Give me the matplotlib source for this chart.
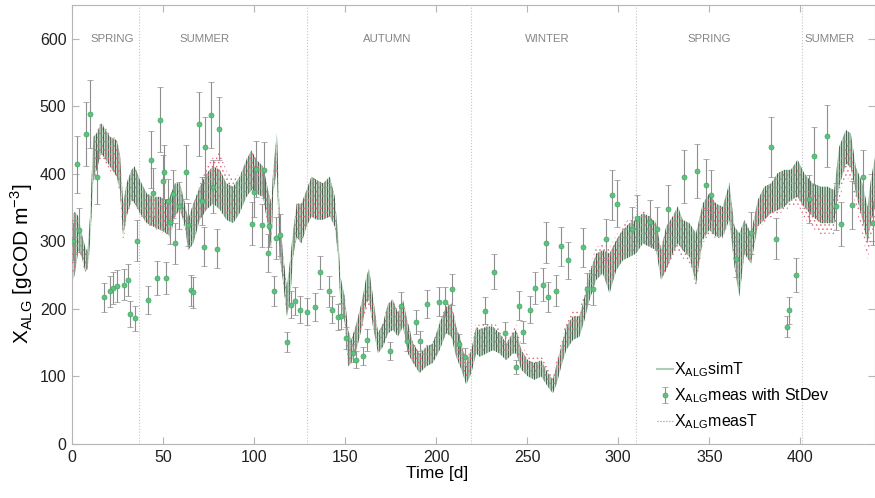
import numpy as np
import matplotlib
matplotlib.use("Agg")
import matplotlib.pyplot as plt
from matplotlib.lines import Line2D

plt.rcParams["font.family"] = ["Liberation Sans", "DejaVu Sans"]
plt.rcParams["mathtext.fontset"] = "custom"
plt.rcParams["mathtext.rm"] = "Liberation Sans"
plt.rcParams["hatch.linewidth"] = 0.55

# envelope of the daily-oscillating series
t_env = [0, 1.5, 3.5, 5.3, 7.1, 8.5, 9.9, 11.7, 13.5, 16, 18.5, 20.8, 24.5, 26.3, 28.1, 30, 32.7, 34.5, 37.3, 41,
         44.6, 48.3, 52, 53.8, 56.5, 59.3, 62, 63.8, 66.6, 70.2, 73.9, 77.5, 81.2, 84.8, 88.5, 92.1, 95.8, 98.5, 101.3, 104.9,
         107.7, 109.5, 110.5, 112.5, 114, 116, 118, 119.6, 121.5, 123.4, 126, 128.8, 131.5, 134.3, 137.9, 141.6, 144.3, 146.1, 147.4, 149.8,
         151.6, 153.4, 156.2, 158.9, 161.7, 163.1, 165.3, 168.1, 170.8, 173.6, 176.3, 179, 181.8, 184.5, 187.3, 190.9, 194.6, 198.2, 201.9, 205.5,
         208.3, 211, 213.8, 216.5, 219.3, 222, 223.9, 227.5, 231.2, 234.8, 238.5, 242.1, 244, 246.7, 250.4, 254, 257.7, 261.3, 264.1, 266.3,
         268.7, 271.4, 275.1, 278.7, 281.5, 284.2, 287.9, 291.5, 295.2, 298.9, 302.5, 306.2, 309.8, 313.5, 317.1, 320.8, 323.5, 326.3, 329.9, 332.7,
         335.4, 339.1, 342.7, 346.4, 350, 353.7, 357.4, 361, 363.8, 366.5, 369.3, 372.9, 376.6, 380.2, 383.9, 387.5, 391.2, 394.8, 398.5, 402.1,
         406.7, 411.3, 414.9, 418.6, 421.3, 425, 427.7, 430.5, 434.1, 436.9, 438.7, 441]

sim_hi = [340, 344, 337, 312, 293, 285, 337, 455, 460, 475, 465, 455, 450, 430, 356, 386, 406, 411, 391, 371,
          366, 366, 361, 366, 386, 386, 356, 332, 356, 381, 401, 411, 406, 386, 381, 396, 421, 435, 421, 411,
          376, 356, 406, 462, 342, 278, 233, 268, 317, 356, 356, 376, 396, 391, 386, 396, 366, 310, 248, 218,
          169, 154, 179, 208, 248, 260, 218, 164, 179, 208, 213, 194, 213, 179, 149, 134, 144, 149, 179, 203,
          208, 174, 149, 120, 139, 174, 169, 174, 174, 164, 149, 164, 169, 139, 124, 120, 124, 105, 95, 120,
          144, 174, 189, 189, 218, 253, 282, 287, 282, 302, 317, 327, 332, 342, 337, 327, 287, 322, 337, 352,
          332, 327, 312, 356, 371, 356, 351, 386, 322, 312, 332, 312, 361, 381, 386, 401, 406, 406, 421, 401,
          386, 381, 381, 376, 440, 465, 460, 410, 386, 351, 391, 425]
sim_lo = [240, 250, 287, 277, 258, 258, 297, 391, 406, 431, 421, 411, 396, 376, 307, 337, 361, 356, 342, 327,
          322, 317, 312, 307, 337, 347, 322, 287, 297, 332, 347, 356, 347, 332, 327, 342, 366, 376, 371, 366,
          322, 287, 371, 406, 278, 238, 189, 209, 278, 307, 297, 322, 337, 332, 332, 337, 322, 280, 209, 179,
          115, 120, 139, 169, 209, 213, 174, 134, 144, 164, 169, 159, 174, 134, 120, 105, 115, 120, 139, 164,
          159, 129, 110, 88, 105, 134, 129, 134, 139, 134, 124, 134, 134, 110, 100, 95, 100, 85, 75, 90,
          115, 139, 154, 159, 184, 213, 243, 253, 223, 257, 272, 277, 282, 297, 292, 287, 243, 257, 282, 297,
          287, 277, 237, 302, 317, 307, 307, 332, 263, 218, 282, 267, 322, 332, 342, 346, 351, 361, 366, 351,
          337, 327, 327, 327, 381, 415, 410, 371, 332, 297, 327, 351]

meas_hi = [335, 340, 335, 310, 290, 283, 330, 450, 462, 478, 468, 458, 452, 432, 360, 388, 405, 410, 390, 370,
           366, 366, 362, 365, 385, 385, 355, 330, 358, 385, 410, 425, 432, 405, 392, 400, 422, 435, 420, 410,
           375, 355, 405, 455, 340, 278, 232, 266, 315, 355, 356, 376, 396, 391, 386, 396, 366, 310, 248, 220,
           170, 155, 178, 205, 235, 242, 215, 165, 180, 210, 215, 196, 214, 180, 152, 138, 147, 152, 182, 206,
           210, 178, 152, 124, 144, 180, 176, 180, 181, 171, 157, 172, 177, 147, 132, 128, 132, 113, 102, 128,
           152, 183, 198, 198, 228, 262, 292, 296, 290, 310, 325, 334, 338, 346, 340, 330, 290, 322, 334, 346,
           326, 320, 308, 352, 368, 355, 350, 388, 320, 310, 330, 312, 358, 378, 383, 398, 402, 402, 415, 392,
           375, 370, 368, 365, 420, 450, 448, 395, 370, 330, 370, 405]
meas_lo = [245, 255, 285, 272, 255, 255, 290, 385, 400, 425, 415, 405, 392, 370, 295, 335, 358, 355, 340, 325,
           320, 315, 310, 305, 335, 345, 318, 285, 298, 335, 352, 362, 355, 340, 332, 345, 366, 376, 370, 365,
           320, 285, 368, 400, 275, 236, 188, 208, 276, 305, 297, 322, 337, 332, 332, 337, 322, 280, 209, 180,
           118, 122, 140, 165, 200, 205, 172, 135, 146, 166, 170, 160, 175, 137, 122, 108, 118, 122, 142, 166,
           162, 132, 114, 92, 110, 140, 136, 140, 145, 140, 130, 140, 140, 116, 106, 101, 106, 91, 80, 96,
           121, 146, 162, 166, 192, 220, 250, 260, 230, 264, 278, 283, 287, 300, 294, 288, 245, 255, 275, 285,
           275, 268, 232, 296, 312, 304, 305, 330, 260, 222, 280, 265, 318, 328, 336, 340, 345, 352, 355, 335,
           320, 310, 312, 310, 360, 395, 390, 350, 310, 272, 300, 330]

# measurements with standard deviation
obs_t = [0.7, 2.6, 3.8, 7.7, 9.7, 13.5, 17.7, 20.7, 22.5, 24.7, 28.5, 30.7, 31.8, 34.6, 35.7, 41.5, 43.5, 44.4, 46.6, 48.5,
         50.1, 50.5, 51.4, 52.7, 53.6, 55.4, 56.5, 58.5, 62.4, 63.6, 65.5, 66.4, 69.5, 71.5, 72.3, 73.3, 76.4, 77.4, 79.4, 80.5,
         99.1, 100.0, 101.1, 104.1, 105.3, 107.5, 108.4, 111.2, 112.1, 114.1, 118.1, 120.2, 122.2, 125.3, 129.1, 133.2, 136.1, 141.0, 143.0, 146.1,
         148.0, 150.2, 154.2, 156.2, 160.0, 161.9, 174.8, 180.9, 183.8, 188.7, 190.9, 194.8, 201.7, 204.7, 208.7, 212.7, 215.8, 226.6, 231.6, 237.6,
         243.6, 245.6, 247.5, 251.5, 254.4, 258.4, 260.5, 261.4, 265.6, 268.5, 272.5, 280.4, 282.6, 286.2, 293.3, 296.5, 299.4, 307.3, 310.4, 317.3,
         321.4, 327.4, 336.2, 343.1, 348.0, 351.0, 364.9, 372.7, 383.9, 386.8, 392.7, 394.0, 397.8, 404.5, 407.5, 414.5, 419.5, 422.5, 428.5, 434.5,
         440.0]
obs_y = [300, 414, 317, 459, 489, 395, 217, 226, 231, 234, 236, 243, 193, 186, 301, 213, 421, 372, 246, 480,
         390, 403, 246, 360, 328, 370, 297, 353, 403, 325, 228, 225, 474, 360, 292, 440, 487, 381, 289, 467,
         326, 373, 407, 324, 406, 283, 323, 227, 305, 309, 151, 206, 212, 199, 196, 203, 254, 226, 199, 188,
         190, 157, 135, 125, 130, 154, 138, 204, 152, 181, 152, 207, 211, 211, 229, 148, 129, 197, 255, 164,
         114, 205, 166, 199, 231, 236, 298, 218, 227, 293, 272, 291, 230, 229, 303, 368, 356, 319, 335, 329,
         319, 348, 396, 404, 384, 369, 274, 313, 440, 304, 174, 198, 250, 363, 426, 456, 352, 326, 354, 396,
         327]
obs_sd = [27, 42, 32, 47, 50, 40, 22, 23, 23, 23, 23, 24, 19, 19, 30, 21, 42, 36, 25, 48,
          38, 40, 24, 32, 32, 36, 30, 35, 40, 32, 23, 23, 47, 36, 29, 44, 49, 39, 29, 47,
          32, 37, 41, 32, 41, 28, 32, 22, 31, 31, 15, 20, 21, 20, 20, 21, 25, 23, 20, 19,
          19, 16, 13, 12, 13, 16, 13, 21, 15, 18, 15, 21, 21, 21, 23, 15, 13, 20, 26, 16,
          11, 21, 16, 20, 23, 24, 30, 22, 23, 29, 27, 29, 23, 23, 30, 37, 35, 32, 34, 33,
          32, 35, 39, 40, 38, 37, 27, 31, 44, 30, 16, 20, 25, 36, 43, 46, 35, 33, 35, 40,
          33]

season_start = [37, 129, 219, 310, 401]
season_names = ["SPRING", "SUMMER", "AUTUMN", "WINTER", "SPRING", "SUMMER"]
season_mid = [22, 73, 173, 261, 350, 416]

fig = plt.figure(figsize=(8.75, 4.98), dpi=100)
ax = fig.add_axes([0.0823, 0.1084, 0.9177, 0.8815])

ax.fill_between(t_env, sim_lo, sim_hi, facecolor=(0.66, 0.83, 0.71, 0.75),
                edgecolor="#263d2d", hatch="|" * 7, linewidth=0, zorder=2)
ax.fill_between(t_env, meas_lo, meas_hi, facecolor="none",
                edgecolor="#df6a82", hatch="." * 4, linewidth=0, zorder=3)

eb = ax.errorbar(obs_t, obs_y, yerr=obs_sd, fmt="o", ms=3.6, mfc="#5ec27f", mec="#45a566",
                 mew=0.5, ecolor="#8e8e8e", elinewidth=0.8, capsize=2.0, capthick=0.7, zorder=5)

for d in season_start:
    ax.axvline(d, color="#c4c4c4", lw=0.8, ls=":", zorder=1)
for name, m in zip(season_names, season_mid):
    ax.text(m, 600, name, ha="center", va="center", fontsize=8.2, color="#858585")

ax.set_xlim(0, 441)
ax.set_ylim(0, 650)
ax.set_xticks(np.arange(0, 401, 50))
ax.set_yticks(np.arange(0, 601, 100))
ax.tick_params(direction="in", length=5, width=0.8, color="#b5b5b5", labelsize=11.5,
               labelcolor="#222222", right=True, top=True, pad=4)
for s in ax.spines.values():
    s.set_color("#b5b5b5")
    s.set_linewidth(0.8)

ax.set_xlabel("Time [d]", fontsize=12.5)
ax.xaxis.set_label_coords(0.455, -0.05)
ax.set_ylabel(r"X$_{\mathregular{ALG}}$ [gCOD m$^{\mathregular{-3}}$]", fontsize=15)
ax.yaxis.set_label_coords(-0.046, 0.41)

sim_handle = Line2D([], [], color="#a9cfb4", lw=1.5)
mt_handle = Line2D([], [], color="#e06a80", lw=0.8, ls=":")
ax.legend([sim_handle, eb, mt_handle],
          [r"X$_{\mathregular{ALG}}$simT", r"X$_{\mathregular{ALG}}$meas with StDev",
           r"X$_{\mathregular{ALG}}$measT"],
          loc="upper left", bbox_to_anchor=(0.72, 0.205), frameon=False, fontsize=11.5,
          handlelength=1.0, handletextpad=0.1, labelspacing=0.45, borderaxespad=0)

fig.savefig("out.png", dpi=100, facecolor="white")
